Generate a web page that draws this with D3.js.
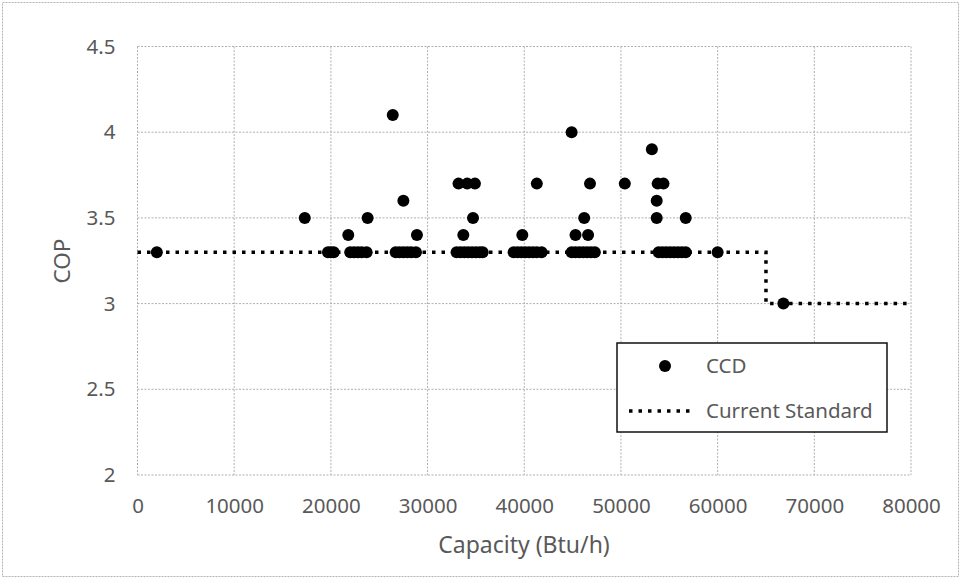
<!DOCTYPE html>
<html>
<head>
<meta charset="utf-8">
<style>
  body { margin: 0; background: #fff; }
  svg text { font-family: "Noto Sans", "Open Sans", sans-serif; }
</style>
</head>
<body>
<svg id="chart" width="962" height="580" viewBox="0 0 962 580" xmlns="http://www.w3.org/2000/svg"></svg>
<script src="https://d3js.org/d3.v7.min.js"></script>
<script>

// CCD units: capacity (Btu/h) and COP
const ccdCapacity = [
  2000, 19700, 20000, 20300, 22000, 22400, 22800, 23200, 23700,
  26700, 27100, 27500, 27900, 28300, 28800,
  33000, 33400, 33800, 34200, 34600, 35000, 35400, 35700,
  38900, 39300, 39700, 40100, 40500, 40900, 41300, 41800,
  44900, 45300, 45700, 46100, 46500, 46900, 47300,
  53900, 54300, 54700, 55100, 55500, 55900, 56300, 56700, 60000,
  17300, 26400, 21800, 23800, 27500, 28900,
  33200, 34100, 34900, 34700, 33700,
  41300, 39800,
  44900, 46800, 46200, 45300, 46600,
  50400, 53200, 53800, 54400, 53700, 53700, 56700,
  66800
];
const ccdCop = [
  3.3, 3.3, 3.3, 3.3, 3.3, 3.3, 3.3, 3.3, 3.3,
  3.3, 3.3, 3.3, 3.3, 3.3, 3.3,
  3.3, 3.3, 3.3, 3.3, 3.3, 3.3, 3.3, 3.3,
  3.3, 3.3, 3.3, 3.3, 3.3, 3.3, 3.3, 3.3,
  3.3, 3.3, 3.3, 3.3, 3.3, 3.3, 3.3,
  3.3, 3.3, 3.3, 3.3, 3.3, 3.3, 3.3, 3.3, 3.3,
  3.5, 4.1, 3.4, 3.5, 3.6, 3.4,
  3.7, 3.7, 3.7, 3.5, 3.4,
  3.7, 3.4,
  4.0, 3.7, 3.5, 3.4, 3.4,
  3.7, 3.9, 3.7, 3.7, 3.6, 3.5, 3.5,
  3.0
];

// Current standard (step line)
const stdCapacity = [0, 65000, 65000, 80000];
const stdCop = [3.3, 3.3, 3.0, 3.0];

// Axis ticks
const xTicks = [0, 10000, 20000, 30000, 40000, 50000, 60000, 70000, 80000];
const yTicks = [2, 2.5, 3, 3.5, 4, 4.5];

const plot = { left: 137.5, right: 911, top: 46.5, bottom: 475 };
const textColor = "#595959";

const x = d3.scaleLinear().domain([0, 80000]).range([plot.left, plot.right]);
const y = d3.scaleLinear().domain([2, 4.5]).range([plot.bottom, plot.top]);

const svg = d3.select("#chart");

// outer chart border
svg.append("rect")
  .attr("x", 2.5).attr("y", 2.5)
  .attr("width", 956).attr("height", 574)
  .attr("fill", "none")
  .attr("stroke", "#b5b5b5")
  .attr("stroke-dasharray", "2,1");

// gridlines
svg.append("g")
  .selectAll("line")
  .data(xTicks)
  .join("line")
  .attr("x1", d => x(d)).attr("x2", d => x(d))
  .attr("y1", plot.top).attr("y2", plot.bottom)
  .attr("stroke", "#b0b0b0")
  .attr("stroke-dasharray", "2,1.5");

svg.append("g")
  .selectAll("line")
  .data(yTicks)
  .join("line")
  .attr("x1", plot.left).attr("x2", plot.right)
  .attr("y1", d => y(d)).attr("y2", d => y(d))
  .attr("stroke", "#b0b0b0")
  .attr("stroke-dasharray", "2,1.5");

// tick labels via d3 axes
const xAxis = svg.append("g")
  .attr("transform", `translate(0,${plot.bottom})`)
  .call(d3.axisBottom(x).tickValues(xTicks).tickSize(0).tickPadding(23).tickFormat(d3.format("d")));
const yAxis = svg.append("g")
  .attr("transform", `translate(${plot.left},0)`)
  .call(d3.axisLeft(y).tickValues(yTicks).tickSize(0).tickPadding(22).tickFormat(d => d));

[xAxis, yAxis].forEach(ax => {
  ax.select(".domain").remove();
  ax.selectAll("text")
    .attr("fill", textColor)
    .attr("font-size", "20.5px")
    .style("font-family", "'Noto Sans', sans-serif");
});

// axis titles
svg.append("text")
  .attr("x", 524)
  .attr("y", 553)
  .attr("text-anchor", "middle")
  .attr("font-size", "23px")
  .attr("fill", textColor)
  .text("Capacity (Btu/h)");

svg.append("text")
  .attr("transform", "translate(70,261) rotate(-90)")
  .attr("text-anchor", "middle")
  .attr("font-size", "22.5px")
  .attr("fill", textColor)
  .text("COP");

// current standard dotted line
const line = d3.line()
  .x((d, i) => x(stdCapacity[i]))
  .y((d, i) => y(stdCop[i]));

svg.append("path")
  .attr("d", line(stdCapacity))
  .attr("fill", "none")
  .attr("stroke", "#000")
  .attr("stroke-width", 3.5)
  .attr("stroke-dasharray", "3.5,6");

// CCD points
svg.append("g")
  .selectAll("circle")
  .data(ccdCapacity)
  .join("circle")
  .attr("cx", d => x(d))
  .attr("cy", (d, i) => y(ccdCop[i]))
  .attr("r", 6)
  .attr("fill", "#000");

// legend
const legend = svg.append("g");
legend.append("rect")
  .attr("x", 617).attr("y", 343)
  .attr("width", 270).attr("height", 89)
  .attr("fill", "#fff")
  .attr("stroke", "#111")
  .attr("stroke-width", 1.5);
legend.append("circle")
  .attr("cx", 665).attr("cy", 366)
  .attr("r", 6)
  .attr("fill", "#000");
legend.append("text")
  .attr("x", 706).attr("y", 373)
  .attr("font-size", "20.5px")
  .attr("fill", textColor)
  .text("CCD");
legend.append("line")
  .attr("x1", 629).attr("x2", 694)
  .attr("y1", 411).attr("y2", 411)
  .attr("stroke", "#000")
  .attr("stroke-width", 3.5)
  .attr("stroke-dasharray", "3.5,6");
legend.append("text")
  .attr("x", 706).attr("y", 418)
  .attr("font-size", "20.5px")
  .attr("fill", textColor)
  .text("Current Standard");
</script>
</body>
</html>
